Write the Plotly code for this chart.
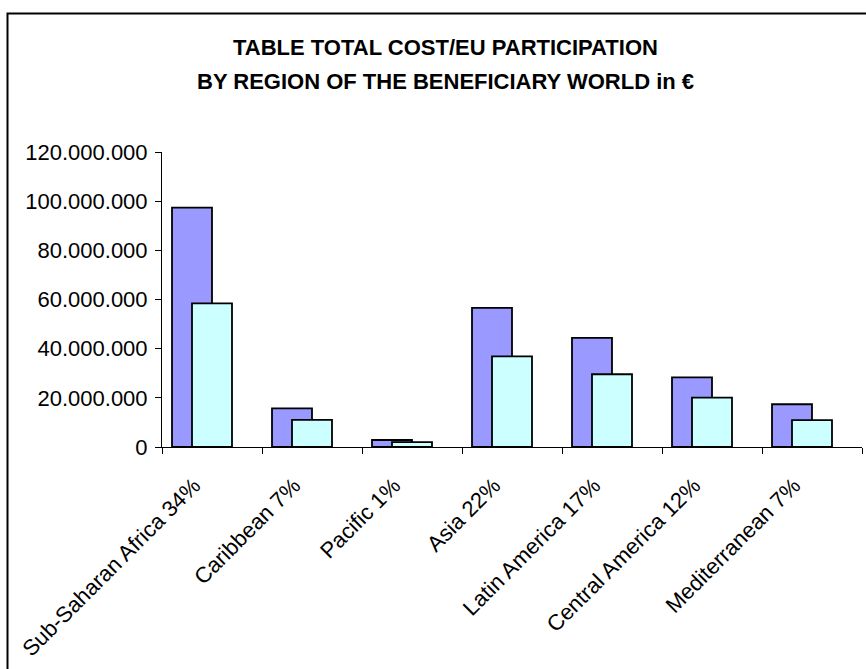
import plotly.graph_objects as go

# Regions of the beneficiary world (share of EU participation in label)
regions = [
    "Sub-Saharan Africa 34%",
    "Caribbean 7%",
    "Pacific 1%",
    "Asia 22%",
    "Latin America 17%",
    "Central America 12%",
    "Mediterranean 7%",
]

# Total cost per region, in €
total_cost = [97_400_000, 15_700_000, 2_850_000, 56_600_000, 44_400_000, 28_300_000, 17_400_000]

# EU participation per region, in €
eu_participation = [58_400_000, 11_000_000, 2_000_000, 36_900_000, 29_600_000, 20_100_000, 10_900_000]

y_ticks = [0, 20_000_000, 40_000_000, 60_000_000, 80_000_000, 100_000_000, 120_000_000]
y_tick_text = ["0", "20.000.000", "40.000.000", "60.000.000", "80.000.000", "100.000.000", "120.000.000"]

FONT = "Liberation Sans, Arial, sans-serif"

fig = go.Figure()
fig.add_trace(go.Bar(
    x=regions, y=total_cost, name="Total cost",
    width=0.4, offset=-0.4,
    marker=dict(color="#9999FF", line=dict(color="#000000", width=1.8)),
))
fig.add_trace(go.Bar(
    x=regions, y=eu_participation, name="EU participation",
    width=0.4, offset=-0.2,
    marker=dict(color="#CCFFFF", line=dict(color="#000000", width=1.8)),
))

W, H = 866, 669
L, R, T, B = 162, 4, 152, 222
pw, ph = W - L - R, H - T - B


def px_x(x):
    return (x - L) / pw


def px_y(y):
    return (H - B - y) / ph


fig.update_layout(
    width=W, height=H,
    margin=dict(l=L, r=R, t=T, b=B),
    barmode="overlay",
    showlegend=False,
    paper_bgcolor="white",
    plot_bgcolor="white",
    font=dict(family=FONT, color="#000000"),
    xaxis=dict(
        type="category",
        range=[-0.5, 6.5],
        tickson="boundaries",
        ticks="outside", ticklen=6, tickwidth=1, tickcolor="#000000",
        showline=True, linecolor="#000000", linewidth=1,
        showgrid=False, zeroline=False,
        tickangle=-45,
        ticklabelshift=-18,
        ticklabelstandoff=16,
        tickfont=dict(family=FONT, size=22, color="#000000"),
    ),
    yaxis=dict(
        range=[0, 120_000_000],
        tickvals=y_ticks, ticktext=y_tick_text,
        ticks="outside", ticklen=6, tickwidth=1, tickcolor="#000000",
        showline=True, linecolor="#000000", linewidth=1,
        showgrid=False, zeroline=False,
        ticklabelstandoff=3,
        tickfont=dict(family=FONT, size=22, color="#000000"),
    ),
    annotations=[
        dict(text="<b>TABLE TOTAL COST/EU PARTICIPATION</b>",
             xref="paper", yref="paper", x=px_x(445), y=px_y(47),
             xanchor="center", yanchor="middle", showarrow=False,
             font=dict(family=FONT, size=22, color="#000000")),
        dict(text="<b>BY REGION OF THE BENEFICIARY WORLD in €</b>",
             xref="paper", yref="paper", x=px_x(445), y=px_y(82),
             xanchor="center", yanchor="middle", showarrow=False,
             font=dict(family=FONT, size=22, color="#000000")),
    ],
    shapes=[
        dict(type="rect", xref="paper", yref="paper",
             x0=px_x(7.5), x1=px_x(870), y0=px_y(672), y1=px_y(13.5),
             line=dict(color="#000000", width=2), fillcolor="rgba(0,0,0,0)",
             layer="below"),
    ],
)

fig.write_html("out.html", config={"displayModeBar": False})
